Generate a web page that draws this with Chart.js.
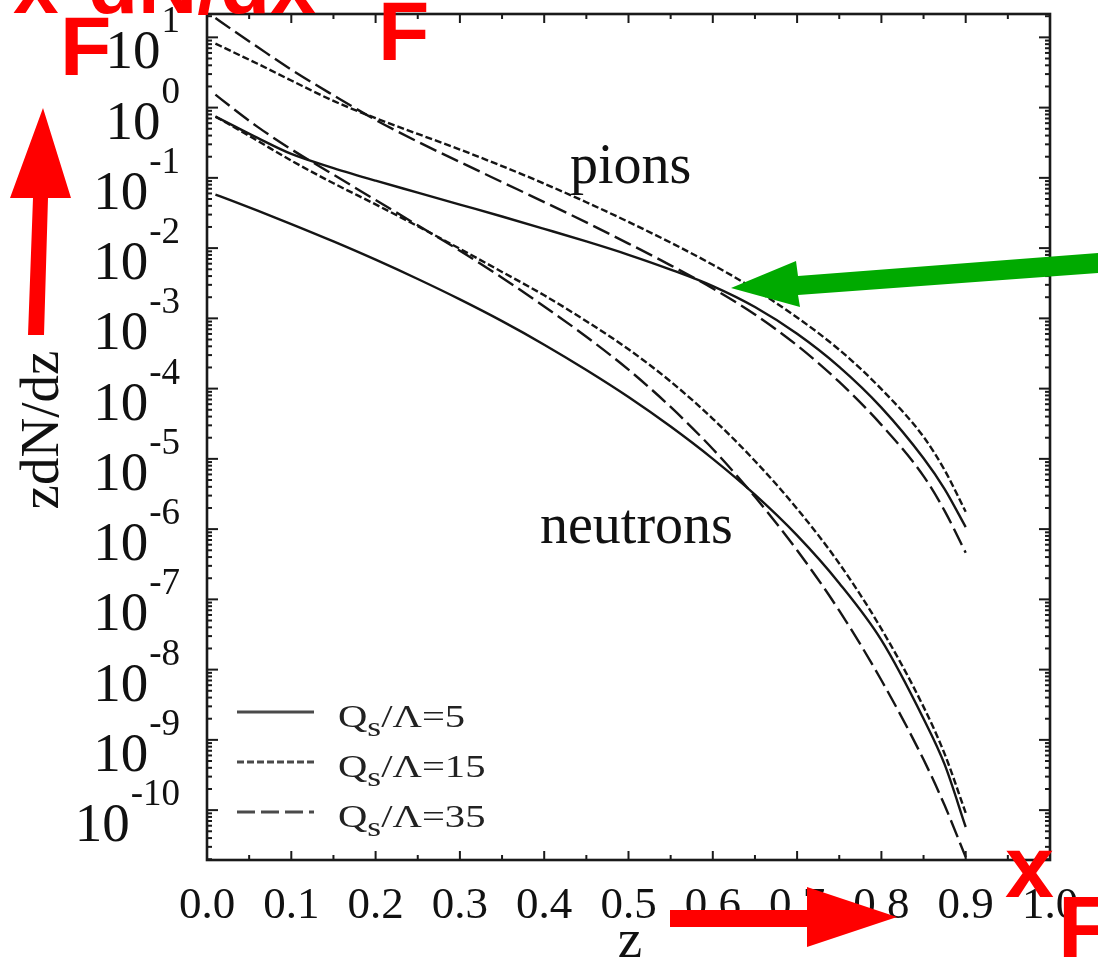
<!DOCTYPE html>
<html>
<head>
<meta charset="utf-8">
<script src="https://cdn.jsdelivr.net/npm/chart.js@4.4.1/dist/chart.umd.min.js"></script>
<style>
    html, body { margin: 0; padding: 0; background: #fff; }
    #spectres { display: block; }
</style>
</head>
<body>
<canvas id="spectres" width="1098" height="963"></canvas>
<script>
// z grid shared by every curve
const zGrid = [0.01, 0.03, 0.06, 0.1, 0.15, 0.2, 0.25, 0.3, 0.35, 0.4, 0.45, 0.5, 0.55, 0.6, 0.65, 0.7, 0.75, 0.8, 0.85, 0.875, 0.9];

// zdN/dz, pions
const pionsQ5  = [0.745, 0.563, 0.370, 0.219, 0.138, 0.0912, 0.0617, 0.0417, 0.0282, 0.0188, 0.01245, 8.04e-3, 4.95e-3, 2.88e-3, 1.45e-3, 6.03e-4, 2.04e-4, 5.37e-5, 1.02e-5, 3.72e-6, 1.07e-6];
const pionsQ15 = [8.16, 6.25, 4.21, 2.43, 1.245, 0.708, 0.422, 0.253, 0.147, 0.0828, 0.0450, 0.0236, 0.01197, 5.79e-3, 2.59e-3, 1.03e-3, 3.57e-4, 9.84e-5, 2.06e-5, 6.92e-6, 1.77e-6];
const pionsQ35 = [18.8, 12.8, 7.28, 3.47, 1.496, 0.668, 0.327, 0.168, 0.0871, 0.0452, 0.0232, 0.01161, 5.69e-3, 2.66e-3, 1.135e-3, 4.12e-4, 1.245e-4, 3.05e-5, 5.69e-6, 1.82e-6, 4.61e-7];

// zdN/dz, neutrons
const neutronsQ5  = [0.0577, 0.0469, 0.0341, 0.0220, 0.01245, 6.84e-3, 3.63e-3, 1.86e-3, 9.12e-4, 4.22e-4, 1.84e-4, 7.59e-5, 2.88e-5, 1.0e-5, 3.09e-6, 8.13e-7, 1.70e-7, 2.63e-8, 2.0e-9, 4.47e-10, 5.75e-11];
const neutronsQ15 = [0.745, 0.546, 0.337, 0.176, 0.0838, 0.0419, 0.0205, 9.78e-3, 4.58e-3, 2.13e-3, 9.12e-4, 3.63e-4, 1.26e-4, 3.72e-5, 9.33e-6, 1.95e-6, 3.24e-7, 3.80e-8, 2.95e-9, 6.31e-10, 9.12e-11];
const neutronsQ35 = [1.53, 0.99, 0.532, 0.255, 0.111, 0.0484, 0.0211, 9.20e-3, 3.79e-3, 1.48e-3, 5.48e-4, 1.86e-4, 5.48e-5, 1.38e-5, 2.88e-6, 5.0e-7, 6.90e-8, 7.06e-9, 5.24e-10, 1.17e-10, 2.14e-11];

// saturation scales Qs/Lambda shown in the legend
const qsValeurs = [5, 15, 35];

// axis ticks
const xTicks = [0.0, 0.1, 0.2, 0.3, 0.4, 0.5, 0.6, 0.7, 0.8, 0.9, 1.0];
const yExposants = [1, 0, -1, -2, -3, -4, -5, -6, -7, -8, -9, -10];

const SERIF = '"Liberation Serif", "Times New Roman", serif';
const SANS = '"Liberation Sans", Arial, sans-serif';
const tirets = { 5: [], 15: [7, 3], 35: [18, 6] };

function points(valeurs) {
    return zGrid.map((z, i) => ({ x: z, y: valeurs[i] }));
}

function courbe(label, valeurs, qs) {
    return {
        label: label,
        data: points(valeurs),
        borderColor: '#151515',
        borderWidth: 2.4,
        borderDash: tirets[qs],
        pointRadius: 0,
        fill: false,
        cubicInterpolationMode: 'monotone'
    };
}

function trait(ctx, x1, y1, x2, y2) {
    ctx.beginPath();
    ctx.moveTo(x1, y1);
    ctx.lineTo(x2, y2);
    ctx.stroke();
}

function polygone(ctx, pts, couleur) {
    ctx.fillStyle = couleur;
    ctx.beginPath();
    ctx.moveTo(pts[0][0], pts[0][1]);
    for (let i = 1; i < pts.length; i++) ctx.lineTo(pts[i][0], pts[i][1]);
    ctx.closePath();
    ctx.fill();
}

// frame, inward ticks, tick labels, legend and annotations
const cadre = {
    id: 'cadre',
    afterDatasetsDraw(chart) {
        const ctx = chart.ctx;
        const a = chart.chartArea;
        const xs = chart.scales.x;
        const ys = chart.scales.y;
        ctx.save();

        ctx.strokeStyle = '#1a1a1a';
        ctx.lineWidth = 2.6;
        ctx.strokeRect(a.left, a.top, a.right - a.left, a.bottom - a.top);

        // x ticks every 0.05
        ctx.lineWidth = 2;
        for (let i = 0; i <= 20; i++) {
            const px = xs.getPixelForValue(i * 0.05);
            const len = i % 2 === 0 ? 9 : 5;
            trait(ctx, px, a.bottom, px, a.bottom - len);
            trait(ctx, px, a.top, px, a.top + len);
        }

        // y ticks, log decades with minor marks
        for (let e = -11; e <= 1; e++) {
            for (let m = 1; m <= 9; m++) {
                const v = m * Math.pow(10, e);
                if (v < ys.min || v > ys.max) continue;
                const py = ys.getPixelForValue(v);
                const len = m === 1 ? 11 : 5;
                trait(ctx, a.left, py, a.left + len, py);
                trait(ctx, a.right, py, a.right - len, py);
            }
        }

        ctx.fillStyle = '#111';
        ctx.textBaseline = 'alphabetic';

        // x tick labels
        ctx.font = '45px ' + SERIF;
        ctx.textAlign = 'center';
        xTicks.forEach(t => {
            ctx.fillText(t.toFixed(1), xs.getPixelForValue(t), 918);
        });

        // y tick labels 10^n
        yExposants.forEach(e => {
            const py = ys.getPixelForValue(Math.pow(10, e));
            ctx.font = '37px ' + SERIF;
            const exp = String(e);
            const wExp = ctx.measureText(exp).width;
            ctx.textAlign = 'left';
            ctx.fillText(exp, 180 - wExp, py - 5);
            ctx.font = '55px ' + SERIF;
            ctx.textAlign = 'right';
            ctx.fillText('10', 180 - wExp - 1, py + 31);
        });

        // axis titles
        ctx.font = '55px ' + SERIF;
        ctx.textAlign = 'center';
        ctx.fillText('z', 630, 957);
        ctx.save();
        ctx.translate(58, 430);
        ctx.rotate(-Math.PI / 2);
        ctx.fillText('zdN/dz', 0, 0);
        ctx.restore();

        // curve family labels
        ctx.font = '56px ' + SERIF;
        ctx.textAlign = 'left';
        ctx.fillText('pions', 570, 183);
        ctx.fillText('neutrons', 540, 543);

        // legend, text slightly widened
        qsValeurs.forEach((qs, i) => {
            const y = 712 + i * 50;
            ctx.strokeStyle = '#4a4a4a';
            ctx.lineWidth = 3;
            ctx.setLineDash(tirets[qs]);
            trait(ctx, 237, y, 314, y);
            ctx.setLineDash([]);
            const base = y + 15;
            ctx.save();
            ctx.translate(338, base);
            ctx.scale(1.27, 1);
            let x = 0;
            ctx.fillStyle = '#222';
            ctx.font = '32px ' + SERIF;
            ctx.fillText('Q', x, 0);
            x += ctx.measureText('Q').width;
            ctx.font = '28px ' + SERIF;
            ctx.fillText('s', x, 9);
            x += ctx.measureText('s').width;
            ctx.font = '32px ' + SERIF;
            ctx.fillText('/\u039B=' + qs, x, 0);
            ctx.restore();
        });

        // red annotations
        const rouge = '#ff0000';
        ctx.fillStyle = rouge;
        ctx.font = 'bold 82px ' + SANS;
        ctx.textAlign = 'left';
        ctx.fillText('x', 13, 13);
        ctx.fillText('dN/dx', 88, 13);
        ctx.font = 'bold 84px ' + SANS;
        ctx.fillText('F', 60, 75);
        ctx.fillText('F', 378, 60);
        ctx.font = 'bold 88px ' + SANS;
        ctx.fillText('x', 1005, 897);
        ctx.fillText('F', 1058, 957);

        polygone(ctx, [[43, 108], [71, 198], [48, 198], [44, 335], [28, 335], [33, 198], [10, 198]], rouge);
        polygone(ctx, [[670, 910], [807, 910], [807, 887], [897, 917], [807, 947], [807, 927], [670, 927]], rouge);

        // green arrow
        polygone(ctx, [[1098, 253], [798, 276], [796, 261], [731, 288], [800, 307], [798, 295], [1098, 273]], '#00aa00');

        ctx.restore();
    }
};

let cvs = document.getElementById('spectres').getContext('2d');
let graphe = new Chart(cvs, {
    type: 'line',
    data: {
        datasets: [
            courbe('pions Qs/\u039B=5', pionsQ5, 5),
            courbe('pions Qs/\u039B=15', pionsQ15, 15),
            courbe('pions Qs/\u039B=35', pionsQ35, 35),
            courbe('neutrons Qs/\u039B=5', neutronsQ5, 5),
            courbe('neutrons Qs/\u039B=15', neutronsQ15, 15),
            courbe('neutrons Qs/\u039B=35', neutronsQ35, 35)
        ]
    },
    options: {
        responsive: false,
        animation: false,
        layout: { padding: { left: 207, right: 48, top: 14, bottom: 103 } },
        plugins: {
            legend: { display: false },
            tooltip: { enabled: false }
        },
        scales: {
            x: { type: 'linear', min: 0, max: 1, display: false },
            y: { type: 'logarithmic', min: 1.95e-11, max: 21.5, display: false, bounds: 'data' }
        }
    },
    plugins: [cadre]
});
</script>
</body>
</html>
